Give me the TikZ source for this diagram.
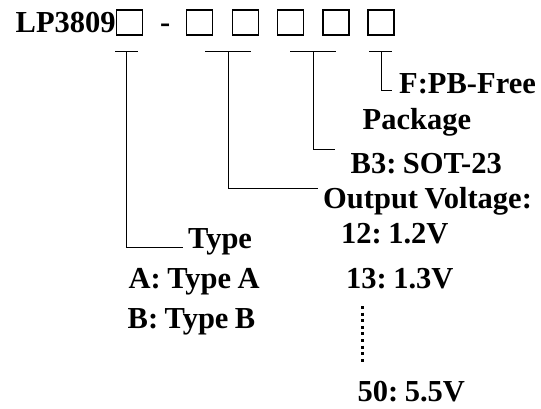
\documentclass[tikz,border=0pt]{standalone}
\usepackage{fontspec}
\setmainfont[WordSpace=0.85]{Liberation Serif}
\frenchspacing
\begin{document}
\begin{tikzpicture}[x=1pt,y=-1pt,
  lbl/.style={anchor=base west,inner sep=0pt,font=\fontsize{30.5}{36}\selectfont\bfseries\frenchspacing},
  digit/.style={draw,line width=1.3pt,minimum width=26pt,minimum height=25pt,inner sep=0pt},
  conn/.style={line width=1pt},
  dotline/.style={line width=3pt,dash pattern=on 3pt off 3.6pt}]
\useasboundingbox (0,0) rectangle (541,408);
% header
\node[lbl] (lp) at (15.5,32.3) {LP3809};
\node[digit] (b1) at (129.5,22.5) {};
\node[lbl] (dash) at (160,32.3) {-};
\node[digit] (b2) at (199.5,22.5) {};
\node[digit] (b3) at (245.5,22.5) {};
\node[digit] (b4) at (290.5,22.5) {};
\node[digit] (b5) at (336,22.5) {};
\node[digit] (b6) at (381,22.5) {};
% labels
\node[lbl] (fpb) at (399,93.3) {F:PB-Free};
\node[lbl] (pkg) at (362.5,129.3) {Package};
\node[lbl] (sot) at (350.5,173.3) {B3: SOT-23};
\node[lbl] (ov) at (323,208) {Output Voltage:};
\node[lbl] (v12) at (341,243) {12: 1.2V};
\node[lbl] (type) at (188,248) {Type};
\node[lbl] (ta) at (128.5,288.3) {A: Type A};
\node[lbl] (tb) at (127.5,328.3) {B: Type B};
\node[lbl] (v13) at (346,288.3) {13: 1.3V};
\node[lbl,text depth=0pt] (v50) at (357.5,401.5) {50: 5.5V};
% bracket coordinates
\coordinate (t1) at (126.7,51.7);
\coordinate (t2) at (228,51.7);
\coordinate (t3) at (313,51.7);
\coordinate (t4) at (381,51.7);
\coordinate (e1) at (183,247.3);
\coordinate (e2) at (318,188.3);
\coordinate (e3) at (335,149.3);
\coordinate (e4) at (392,90.7);
% brackets
\draw[conn] (115,51.7) -- (138,51.7);
\draw[conn] (205,51.7) -- (251,51.7);
\draw[conn] (290,51.7) -- (336,51.7);
\draw[conn] (369,51.7) -- (392,51.7);
\draw[conn] (t1) |- (e1);
\draw[conn] (t2) |- (e2);
\draw[conn] (t3) |- (e3);
\draw[conn] (t4) |- (e4);
% dots
\coordinate (d1) at (362.7,306);
\coordinate (d2) at (362.7,362);
\draw[dotline] (d1) -- (d2);
\end{tikzpicture}
\end{document}
